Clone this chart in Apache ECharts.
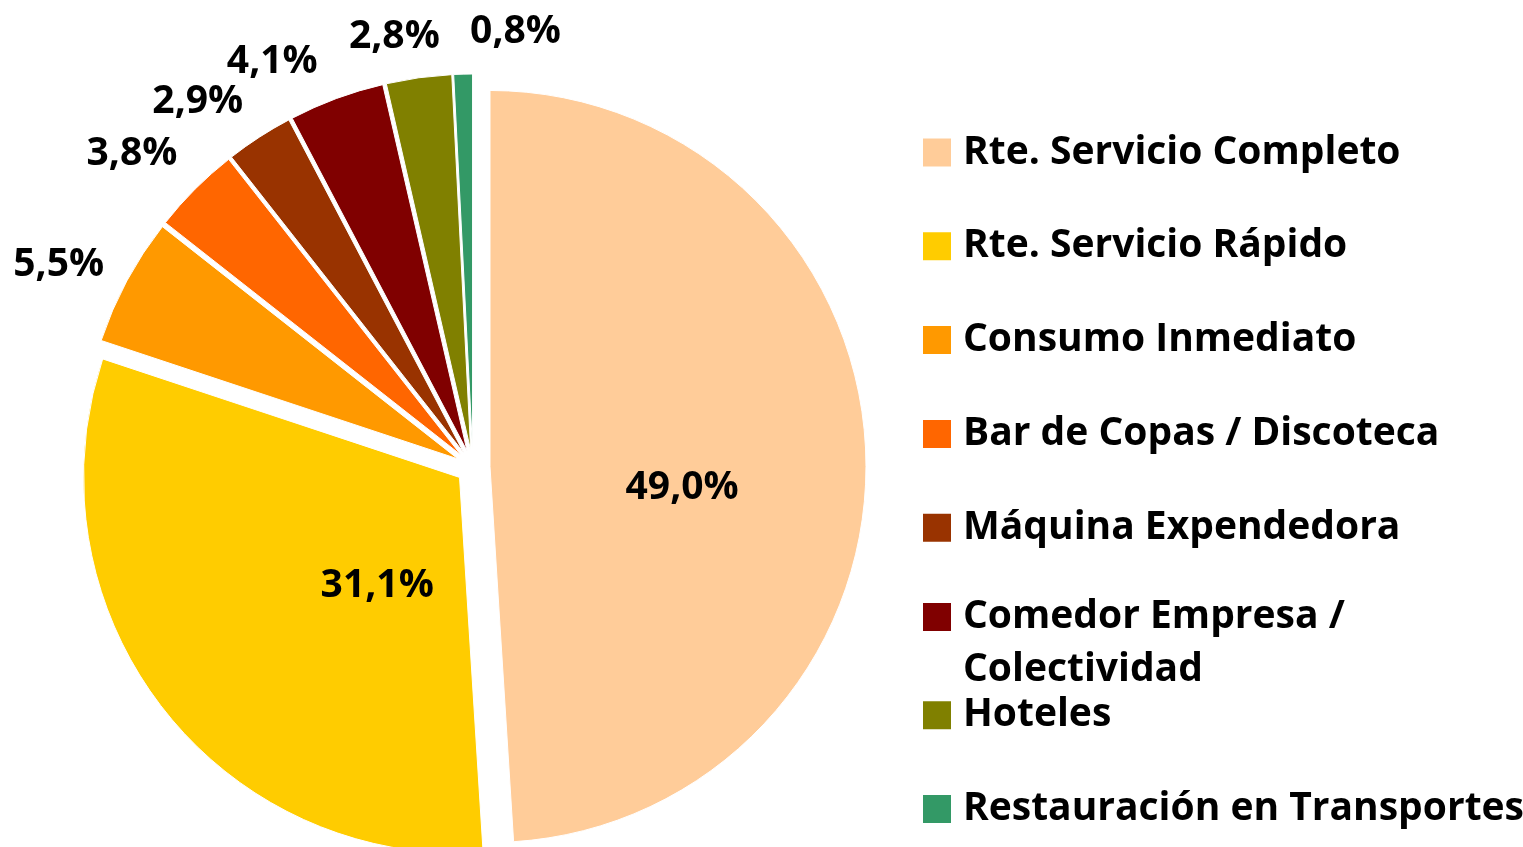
<!DOCTYPE html>
<html>
<head>
<meta charset="utf-8">
<script src="https://cdn.jsdelivr.net/npm/echarts@6/dist/echarts.min.js"></script>
<style>
  html, body { margin: 0; padding: 0; background: #fff; }
  #chart { width: 1523px; height: 847px; }
</style>
</head>
<body>
<div id="chart"></div>
<script>
const categories = [
  "Rte. Servicio Completo",
  "Rte. Servicio Rápido",
  "Consumo Inmediato",
  "Bar de Copas / Discoteca",
  "Máquina Expendedora",
  "Comedor Empresa / Colectividad",
  "Hoteles",
  "Restauración en Transportes"
];
const shares = [49.0, 31.1, 5.5, 3.8, 2.9, 4.1, 2.8, 0.8];
const colors = ["#FFCC99", "#FFCC00", "#FF9900", "#FF6600", "#993300", "#800000", "#808000", "#339966"];

// where each % label sits: shift from the slice middle (deg) and distance from centre (px)
const labelShift = [7, -13, -2, -2.3, -3.9, -5.9, -2.4, 7];
const labelDist = [210, 151, 462, 464, 459, 454, 439, 439];

const cx = 473, cy = 467, radius = 376;
const font = "'Open Sans', sans-serif";
const fontSize = 39;

const total = shares.reduce((a, b) => a + b, 0);
const midAngles = [];
let acc = 0;
shares.forEach(v => {
  midAngles.push((acc + v / 2) / total * 360);
  acc += v;
});

function fmt(v) {
  return v.toFixed(1).replace(".", ",") + "%";
}

// one legend per item so the slots stay evenly spaced (the wrapped one overflows)
const legends = categories.map((name, i) => {
  const wrapped = i === 5;
  return {
    left: 921,
    top: 133 + i * 93.8 - (wrapped ? 64.5 : 0),
    orient: "vertical",
    padding: 0,
    data: [name],
    icon: "rect",
    itemWidth: 30,
    itemHeight: 30,
    selectedMode: false,
    // empty first line keeps "Comedor Empresa /" level with its square
    formatter: n => (wrapped ? "\n" + n.replace("Empresa / ", "Empresa /\n") : n),
    textStyle: {
      fontFamily: font,
      fontWeight: "bold",
      fontSize: fontSize,
      color: "#000",
      lineHeight: wrapped ? 53 : 30,
      padding: [0, 0, 0, 6]
    }
  };
});

const chart = echarts.init(document.getElementById("chart"));
chart.setOption({
  animation: false,
  backgroundColor: "#fff",
  legend: legends,
  // polar frame over the pie, in pixels, only used to place the % labels
  polar: { center: [cx, cy], radius: 500 },
  angleAxis: { type: "value", min: 0, max: 360, startAngle: 90, clockwise: true, show: false },
  radiusAxis: { type: "value", min: 0, max: 500, show: false },
  series: [
    {
      type: "pie",
      center: [cx, cy],
      radius: radius,
      startAngle: 90,
      clockwise: true,
      selectedMode: "multiple",
      selectedOffset: 17,
      avoidLabelOverlap: false,
      itemStyle: { borderColor: "#fff", borderWidth: 1 },
      label: { show: false },
      labelLine: { show: false },
      emphasis: { disabled: true },
      data: categories.map((n, i) => ({
        name: n,
        value: shares[i],
        selected: true,
        itemStyle: { color: colors[i] }
      }))
    },
    {
      type: "scatter",
      coordinateSystem: "polar",
      symbolSize: 0,
      silent: true,
      itemStyle: { opacity: 1 },
      label: {
        show: true,
        position: "inside",
        offset: [0, 2],
        formatter: p => fmt(p.value[2]),
        fontFamily: font,
        fontWeight: "bold",
        fontSize: fontSize,
        color: "#000",
        opacity: 1
      },
      data: shares.map((v, i) => [labelDist[i], (midAngles[i] + labelShift[i] + 360) % 360, v])
    }
  ]
});
</script>
</body>
</html>
